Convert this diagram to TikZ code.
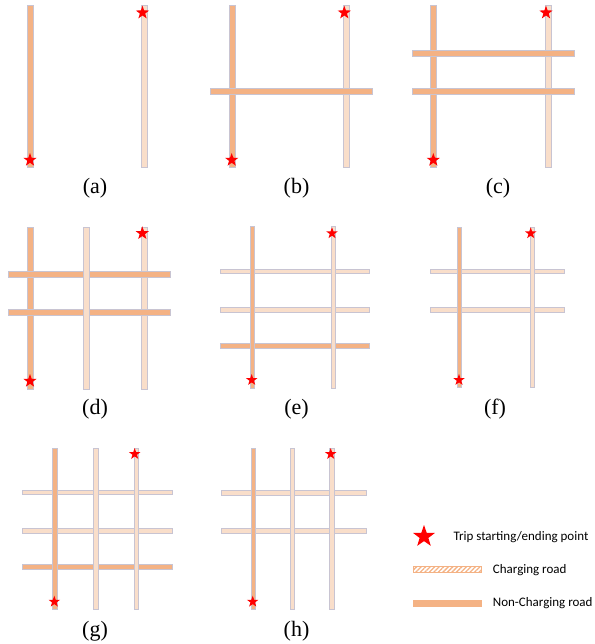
\documentclass[tikz,border=0pt]{standalone}
\usepackage{fontspec}
\setmainfont{Liberation Serif}
\newfontfamily\legendfont{Carlito}
\usetikzlibrary{shapes.geometric,patterns.meta}

\definecolor{roadorange}{RGB}{244,178,132}
\definecolor{chgfill}{RGB}{249,222,202}
\definecolor{roadedge}{RGB}{200,196,210}
\definecolor{starred}{RGB}{255,0,0}

\tikzset{
  nonchg/.style={fill=roadorange, draw=roadedge, line width=0.35pt},
  chg/.style={fill=chgfill, draw=roadedge, line width=0.35pt},
  trippoint/.style={star, star points=5, star point ratio=2.5, fill=starred,
    draw=none, inner sep=0pt, minimum size=#1},
  trippoint/.default=14pt,
  caption/.style={anchor=base, inner sep=0pt, font=\fontsize{22}{24}\selectfont},
  legendtext/.style={anchor=base west, inner sep=0pt, font=\legendfont\fontsize{13}{15}\selectfont}
}

% vertical road: style, x centre, top y, bottom y (half width in \rdhw)
\newcommand\vrd[4]{\draw[#1] ({#2-\rdhw},#3) rectangle ({#2+\rdhw},#4);}
% horizontal road: style, y centre, left x, right x
\newcommand\hrd[4]{\draw[#1] (#3,{#2-\rdhw}) rectangle (#4,{#2+\rdhw});}

\begin{document}
\begin{tikzpicture}[x=1pt,y=-1pt]
\useasboundingbox (0,0) rectangle (594,644);

% ---------------- first row: wide roads ----------------
\def\rdhw{3}
% (a)
\vrd{nonchg}{29.7}{5}{167}
\vrd{chg}{143.7}{5}{167}
\node[trippoint] (a-start) at (30,160) {};
\node[trippoint] (a-end) at (142.5,12.7) {};
\node[caption] (cap-a) at (95,194) {(a)};
% (b)
\vrd{nonchg}{231.8}{5}{167}
\vrd{chg}{345.7}{5}{167}
\hrd{nonchg}{90.7}{210.3}{371.7}
\node[trippoint] (b-start) at (231.7,160) {};
\node[trippoint] (b-end) at (344.3,12.7) {};
\node[caption] (cap-b) at (296.5,194) {(b)};
% (c)
\vrd{nonchg}{433.5}{5}{167}
\vrd{chg}{547.7}{5}{167}
\hrd{nonchg}{53}{412.3}{573.7}
\hrd{nonchg}{90.7}{412.3}{573.7}
\node[trippoint] (c-start) at (433.3,160) {};
\node[trippoint] (c-end) at (546,12.7) {};
\node[caption] (cap-c) at (498,194) {(c)};

% ---------------- second row ----------------
% (d)
\vrd{nonchg}{29.7}{226.7}{388.7}
\vrd{chg}{143.7}{226.7}{388.7}
\hrd{nonchg}{274.3}{8.3}{170}
\hrd{nonchg}{312}{8.3}{170}
\vrd{chg}{86.5}{226.7}{388.7}
\node[trippoint] (d-start) at (30,381) {};
\node[trippoint] (d-end) at (142.3,233.3) {};
\node[caption] (cap-d) at (95,414) {(d)};

\def\rdhw{2.2}
% (e)
\hrd{chg}{271}{220}{368.7}
\hrd{chg}{309.7}{220}{368.7}
\hrd{nonchg}{345.7}{220}{368.7}
\vrd{nonchg}{252.2}{226}{388.3}
\vrd{chg}{333.3}{226}{388.3}
\node[trippoint=12pt] (e-start) at (251.7,380) {};
\node[trippoint=12pt] (e-end) at (332,233.3) {};
\node[caption] (cap-e) at (296.5,414) {(e)};
% (f)
\hrd{chg}{271.2}{430}{563.7}
\hrd{chg}{309.7}{430}{563.7}
\vrd{nonchg}{459.3}{226.7}{387.3}
\vrd{chg}{532}{226.7}{387.3}
\node[trippoint=12pt] (f-start) at (459,380) {};
\node[trippoint=12pt] (f-end) at (530.7,233.3) {};
\node[caption] (cap-f) at (495,414) {(f)};

% ---------------- third row ----------------
% (g)
\hrd{chg}{492.3}{22}{171.7}
\hrd{chg}{530.8}{22}{171.7}
\hrd{nonchg}{566.8}{22}{171.7}
\vrd{nonchg}{54.5}{448.3}{609.3}
\vrd{chg}{95.5}{448.3}{609.3}
\vrd{chg}{136.3}{448.3}{609.3}
\node[trippoint=12pt] (g-start) at (54.3,601.7) {};
\node[trippoint=12pt] (g-end) at (134.7,454) {};
\node[caption] (cap-g) at (95,636) {(g)};
% (h)
\hrd{chg}{492.5}{221}{366}
\hrd{chg}{530.8}{221}{366}
\vrd{nonchg}{253.2}{448.3}{609.3}
\vrd{chg}{292.3}{448.3}{609.3}
\vrd{chg}{331.7}{448.3}{609.3}
\node[trippoint=12pt] (h-start) at (252.7,601.7) {};
\node[trippoint=12pt] (h-end) at (330.7,454) {};
\node[caption] (cap-h) at (296.5,636) {(h)};

% ---------------- legend ----------------
\node[trippoint=23pt] (key-star) at (424,536.5) {};
\node[legendtext] (key-star-text) at (453.3,540.7) {Trip starting/ending point};
\draw[draw=roadorange, line width=0.8pt,
      pattern={Lines[angle=45,distance=3.2pt,line width=1.3pt]}, pattern color=roadorange]
  (413.3,566.7) rectangle (481,572);
\node[legendtext] (key-chg-text) at (492.7,573.3) {Charging road};
\draw[fill=roadorange, draw=roadorange, line width=0.5pt]
  (413.3,600.7) rectangle (481,606.7);
\node[legendtext] (key-nonchg-text) at (492.7,606.7) {Non-Charging road};
\end{tikzpicture}
\end{document}
